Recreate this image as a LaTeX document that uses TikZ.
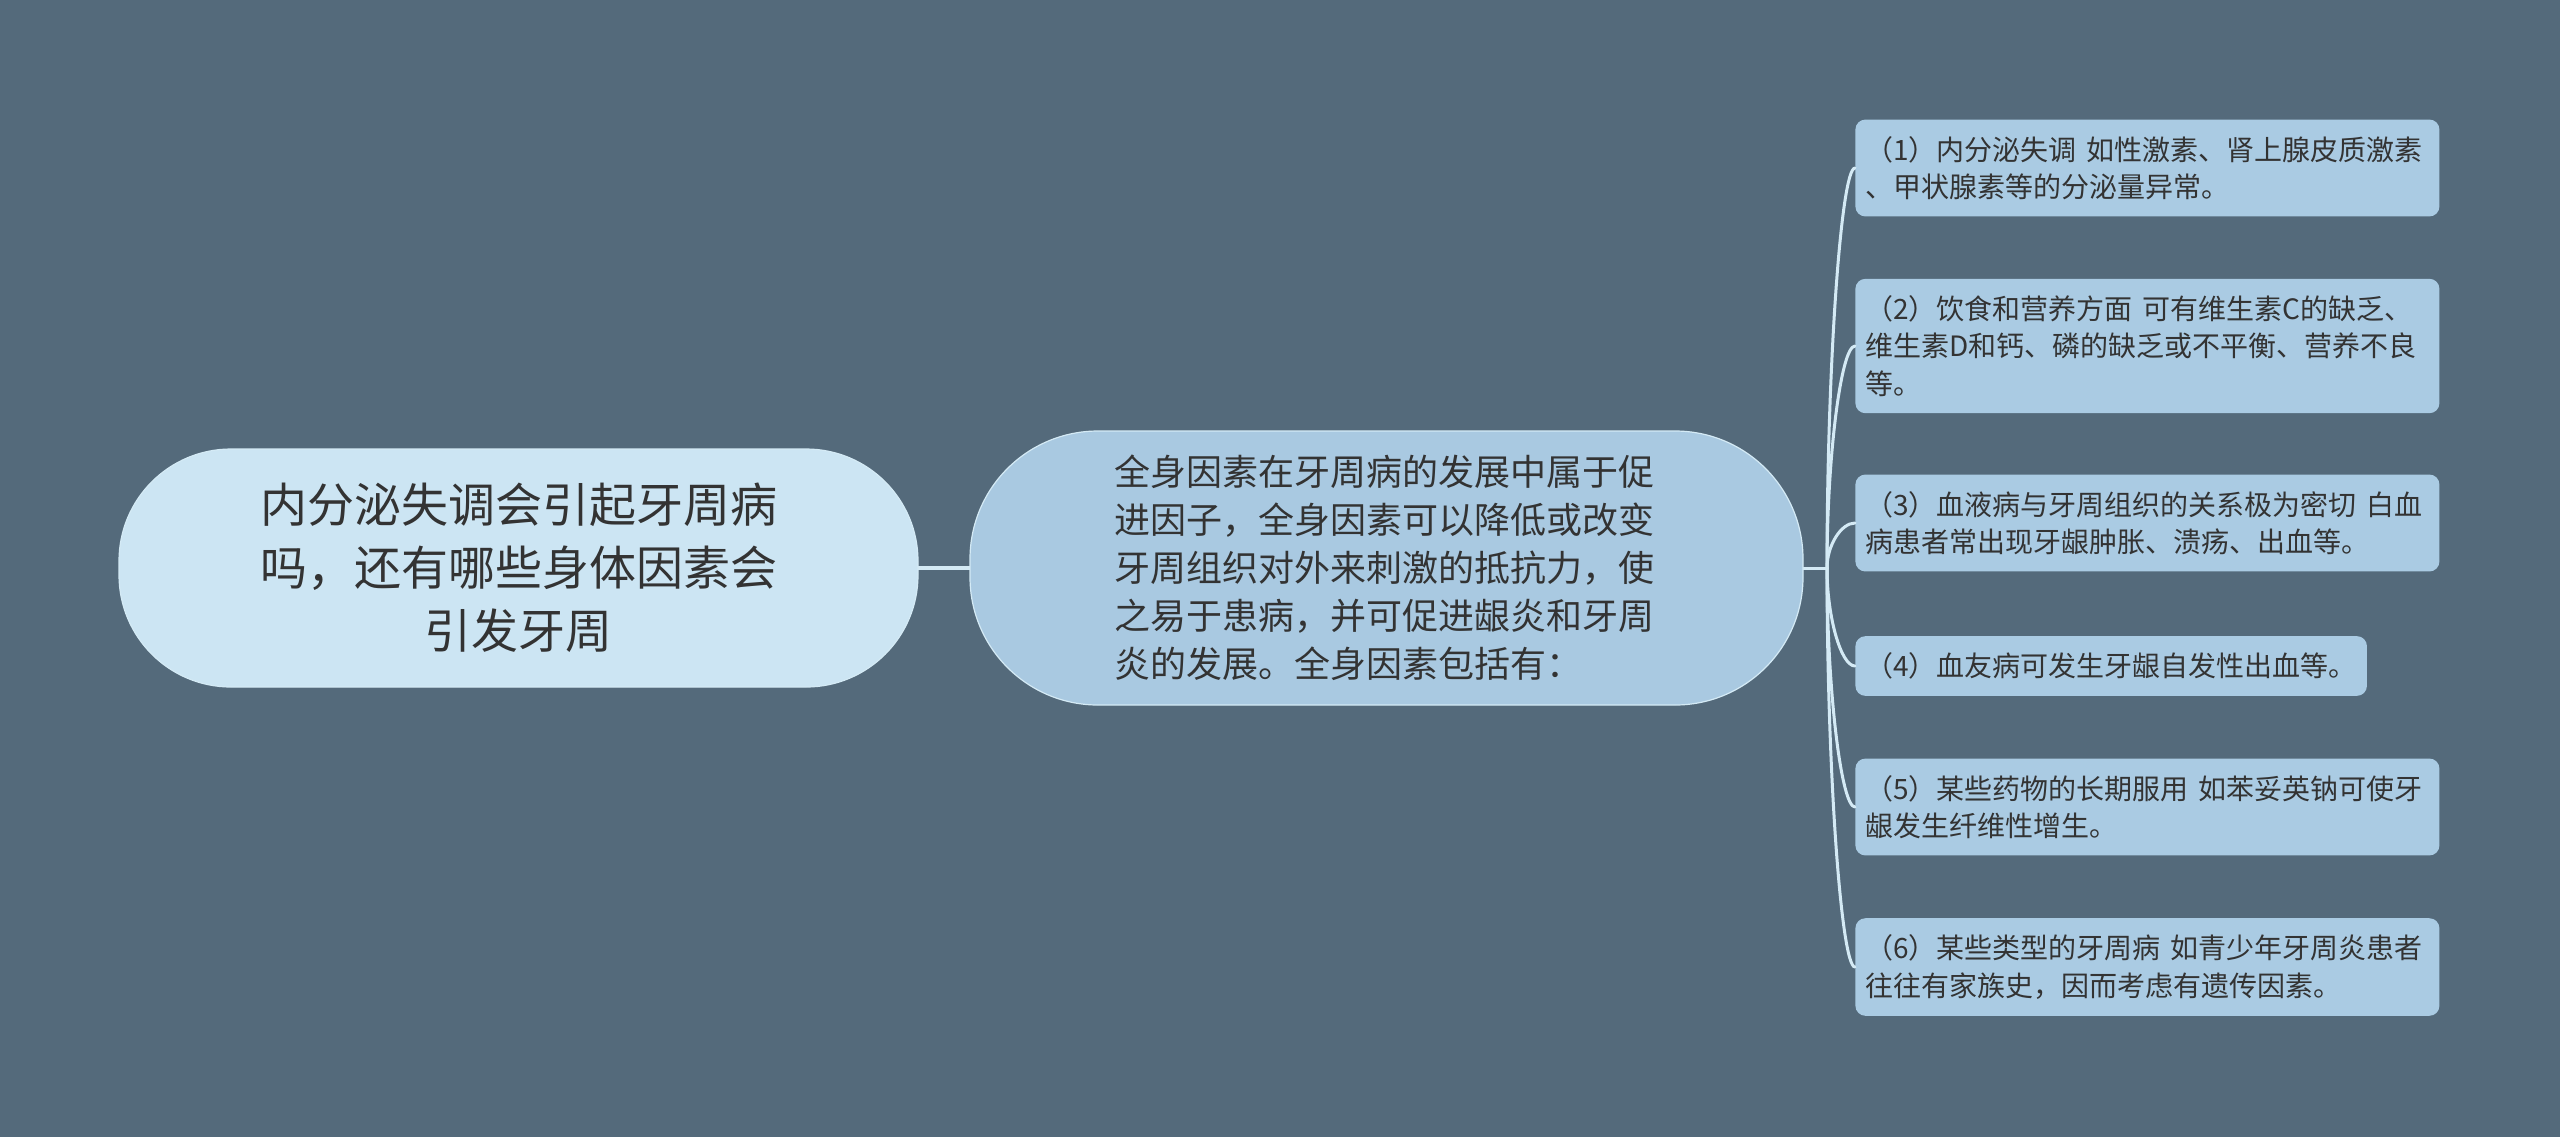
\documentclass[tikz,border=0pt]{standalone}
\usepackage{fontspec}
\setmainfont{Noto Sans CJK SC}
\usepackage{xcolor}
\usepackage{tikz}
\usetikzlibrary{calc}
\definecolor{bg}{HTML}{546A7B}
\definecolor{rootfill}{HTML}{CCE5F3}
\definecolor{midfill}{HTML}{A9C9E1}
\definecolor{leaffill}{HTML}{AACBE3}
\definecolor{linkc}{HTML}{D4EAF5}
\definecolor{ink}{HTML}{333333}
\tikzset{
  rootbox/.style={fill=rootfill, draw=linkc, line width=0.6pt, rounded corners=56pt,
    minimum width=399.5pt, minimum height=119pt, align=center, text=ink,
    font=\fontsize{23.5}{31.5}\selectfont},
  midbox/.style={fill=midfill, draw=linkc, line width=0.6pt, rounded corners=64pt,
    minimum width=416.5pt, minimum height=137pt, text width=272pt, align=left, text=ink,
    font=\fontsize{18}{24}\selectfont},
  leafbox/.style={fill=leaffill, rounded corners=5pt, inner xsep=5pt, inner ysep=8.25pt,
    anchor=west, align=left, text=ink, font=\fontsize{14}{18.8}\selectfont},
  leafwide/.style={leafbox, text width=282pt},
  trunk/.style={draw=linkc, line width=2pt},
  link/.style={draw=linkc, line width=1.5pt, line cap=round},
}
\begin{document}
\begin{tikzpicture}[x=0.5pt,y=-0.5pt]
  \fill[bg] (0,0) rectangle (2560,1137);
  \useasboundingbox (0,0) rectangle (2560,1137);
  \coordinate (J) at (1827,568);

  % connectors
  \draw[trunk] (518.5,568) -- (1386.5,568);
  \draw[link] (1386.5,568) -- (J);

  \node[rootbox] (root) at (518.5,568) {内分泌失调会引起牙周病\\吗，还有哪些身体因素会\\引发牙周};
  \node[midbox] (mid) at (1386.5,568) {全身因素在牙周病的发展中属于促\\进因子，全身因素可以降低或改变\\牙周组织对外来刺激的抵抗力，使\\之易于患病，并可促进龈炎和牙周\\炎的发展。全身因素包括有：};

  \node[leafwide] (f1) at (1855,168) {（1）内分泌失调~如性激素、肾上腺皮质激素\\、甲状腺素等的分泌量异常。};
  \node[leafwide] (f2) at (1855,346) {（2）饮食和营养方面~可有维生素C的缺乏、\\维生素D和钙、磷的缺乏或不平衡、营养不良\\等。};
  \node[leafwide] (f3) at (1855,523) {（3）血液病与牙周组织的关系极为密切~白血\\病患者常出现牙龈肿胀、溃疡、出血等。};
  \node[leafbox] (f4) at (1855,666) {（4）血友病可发生牙龈自发性出血等。};
  \node[leafwide] (f5) at (1855,807) {（5）某些药物的长期服用~如苯妥英钠可使牙\\龈发生纤维性增生。};
  \node[leafwide] (f6) at (1855,967) {（6）某些类型的牙周病~如青少年牙周炎患者\\往往有家族史，因而考虑有遗传因素。};

  \foreach \n in {f1,f2,f3,f4,f5,f6}
    \draw[link] (J) .. controls ($(J)!0.5!(J|-\n.west)$) and ($(\n.west)+(-14,0)$) .. (\n.west);
\end{tikzpicture}
\end{document}
